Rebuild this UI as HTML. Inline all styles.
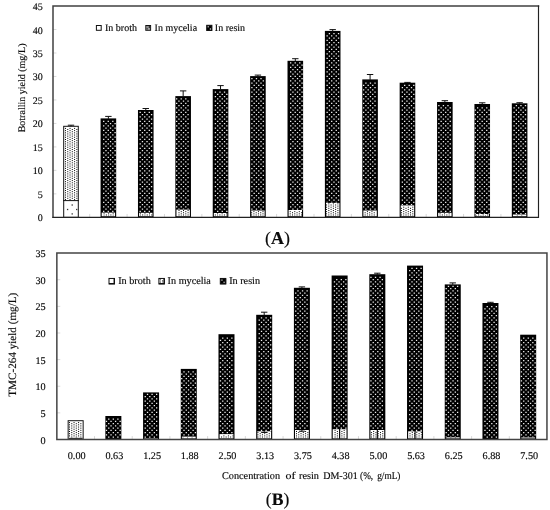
<!DOCTYPE html>
<html><head><meta charset="utf-8"><title>Figure</title>
<style>html,body{margin:0;padding:0;background:#fff}svg{display:block}text{font-family:'Liberation Serif','Times New Roman',serif;fill:#0a0a0a;stroke:#0a0a0a;stroke-width:0.15px;text-rendering:geometricPrecision}</style>
</head><body>
<svg width="550" height="510" viewBox="0 0 550 510">
<rect width="550" height="510" fill="#fff"/>
<line x1="53" y1="193.87" x2="56.4" y2="193.87" stroke="#cfcfcf" stroke-width="0.8"/>
<line x1="53" y1="170.39" x2="56.4" y2="170.39" stroke="#cfcfcf" stroke-width="0.8"/>
<line x1="53" y1="146.92" x2="56.4" y2="146.92" stroke="#cfcfcf" stroke-width="0.8"/>
<line x1="53" y1="123.44" x2="56.4" y2="123.44" stroke="#cfcfcf" stroke-width="0.8"/>
<line x1="53" y1="99.96" x2="56.4" y2="99.96" stroke="#cfcfcf" stroke-width="0.8"/>
<line x1="53" y1="76.48" x2="56.4" y2="76.48" stroke="#cfcfcf" stroke-width="0.8"/>
<line x1="53" y1="53.01" x2="56.4" y2="53.01" stroke="#cfcfcf" stroke-width="0.8"/>
<line x1="53" y1="29.53" x2="56.4" y2="29.53" stroke="#cfcfcf" stroke-width="0.8"/>
<line x1="89.69" y1="217.35" x2="89.69" y2="213.95" stroke="#cfcfcf" stroke-width="0.8"/>
<line x1="127.08" y1="217.35" x2="127.08" y2="213.95" stroke="#cfcfcf" stroke-width="0.8"/>
<line x1="164.46" y1="217.35" x2="164.46" y2="213.95" stroke="#cfcfcf" stroke-width="0.8"/>
<line x1="201.85" y1="217.35" x2="201.85" y2="213.95" stroke="#cfcfcf" stroke-width="0.8"/>
<line x1="239.23" y1="217.35" x2="239.23" y2="213.95" stroke="#cfcfcf" stroke-width="0.8"/>
<line x1="276.62" y1="217.35" x2="276.62" y2="213.95" stroke="#cfcfcf" stroke-width="0.8"/>
<line x1="314" y1="217.35" x2="314" y2="213.95" stroke="#cfcfcf" stroke-width="0.8"/>
<line x1="351.39" y1="217.35" x2="351.39" y2="213.95" stroke="#cfcfcf" stroke-width="0.8"/>
<line x1="388.77" y1="217.35" x2="388.77" y2="213.95" stroke="#cfcfcf" stroke-width="0.8"/>
<line x1="426.16" y1="217.35" x2="426.16" y2="213.95" stroke="#cfcfcf" stroke-width="0.8"/>
<line x1="463.54" y1="217.35" x2="463.54" y2="213.95" stroke="#cfcfcf" stroke-width="0.8"/>
<line x1="500.93" y1="217.35" x2="500.93" y2="213.95" stroke="#cfcfcf" stroke-width="0.8"/>
<rect x="63.7" y="126.3" width="14.6" height="91.05" fill="#fff" stroke="#111" stroke-width="1"/>
<line x1="63.2" y1="200.6" x2="78.8" y2="200.6" stroke="#111" stroke-width="1"/>
<rect x="71.55" y="204.35" width="1.3" height="1.3" fill="#333"/>
<rect x="66.95" y="208.85" width="1.3" height="1.3" fill="#333"/>
<rect x="76.05" y="208.85" width="1.3" height="1.3" fill="#333"/>
<rect x="71.55" y="213.25" width="1.3" height="1.3" fill="#333"/>
<rect x="100.58" y="118.4" width="15.6" height="98.95" fill="#000"/>
<rect x="101.68" y="212.6" width="13.4" height="3.65" fill="#fff"/>
<rect x="137.97" y="110" width="15.6" height="107.35" fill="#000"/>
<rect x="139.07" y="212.8" width="13.4" height="3.45" fill="#fff"/>
<rect x="175.35" y="96.1" width="15.6" height="121.25" fill="#000"/>
<rect x="176.45" y="209.6" width="13.4" height="6.65" fill="#fff"/>
<rect x="212.74" y="89.1" width="15.6" height="128.25" fill="#000"/>
<rect x="213.84" y="213" width="13.4" height="3.25" fill="#fff"/>
<rect x="250.12" y="76.1" width="15.6" height="141.25" fill="#000"/>
<rect x="251.22" y="210.5" width="13.4" height="5.75" fill="#fff"/>
<rect x="287.51" y="60.8" width="15.6" height="156.55" fill="#000"/>
<rect x="288.61" y="210" width="13.4" height="6.25" fill="#fff"/>
<rect x="324.89" y="30.9" width="15.6" height="186.45" fill="#000"/>
<rect x="326" y="202.9" width="13.4" height="13.35" fill="#fff"/>
<rect x="362.28" y="79.4" width="15.6" height="137.95" fill="#000"/>
<rect x="363.38" y="210.5" width="13.4" height="5.75" fill="#fff"/>
<rect x="399.66" y="82.7" width="15.6" height="134.65" fill="#000"/>
<rect x="400.76" y="205.4" width="13.4" height="10.85" fill="#fff"/>
<rect x="437.05" y="102" width="15.6" height="115.35" fill="#000"/>
<rect x="438.15" y="212.8" width="13.4" height="3.45" fill="#fff"/>
<rect x="474.43" y="104" width="15.6" height="113.35" fill="#000"/>
<rect x="475.53" y="214" width="13.4" height="2.25" fill="#fff"/>
<rect x="511.82" y="103.3" width="15.6" height="114.05" fill="#000"/>
<rect x="512.92" y="214.5" width="13.4" height="1.75" fill="#fff"/>
<path d="M103.7 120.75V212.3M105.98 123V212.3M108.26 120.75V212.3M110.54 123V212.3M112.82 120.75V212.3M115.1 123V212.3M140.18 111.75V212.5M142.46 114V212.5M144.74 111.75V212.5M147.02 114V212.5M149.3 111.75V212.5M151.58 114V212.5M176.66 98.25V209.3M178.94 100.5V209.3M181.22 98.25V209.3M183.5 100.5V209.3M185.78 98.25V209.3M188.06 100.5V209.3M215.42 91.5V212.7M217.7 93.75V212.7M219.98 91.5V212.7M222.26 93.75V212.7M224.54 91.5V212.7M226.82 93.75V212.7M251.9 78V210.2M254.18 80.25V210.2M256.46 78V210.2M258.74 80.25V210.2M261.02 78V210.2M263.3 80.25V210.2M290.66 62.25V209.7M292.94 64.5V209.7M295.22 62.25V209.7M297.5 64.5V209.7M299.78 62.25V209.7M302.06 64.5V209.7M327.14 35.25V202.6M329.42 33V202.6M331.7 35.25V202.6M333.98 33V202.6M336.26 35.25V202.6M338.54 33V202.6M363.62 84.75V210.2M365.9 82.5V210.2M368.18 84.75V210.2M370.46 82.5V210.2M372.74 84.75V210.2M375.02 82.5V210.2M402.38 87V205.1M404.66 84.75V205.1M406.94 87V205.1M409.22 84.75V205.1M411.5 87V205.1M413.78 84.75V205.1M438.86 105V212.5M441.14 107.25V212.5M443.42 105V212.5M445.7 107.25V212.5M447.98 105V212.5M450.26 107.25V212.5M475.34 109.5V213.7M477.62 107.25V213.7M479.9 109.5V213.7M482.18 107.25V213.7M484.46 109.5V213.7M486.74 107.25V213.7M489.02 109.5V213.7M514.1 107.25V214.2M516.38 105V214.2M518.66 107.25V214.2M520.94 105V214.2M523.22 107.25V214.2M525.5 105V214.2" fill="none" stroke="#f0f0f0" stroke-width="1.3" stroke-dasharray="1.3 3.2"/>
<path d="M65.5 127.9V200M67.77 129.01V200M70.04 127.9V200M72.31 129.01V200M74.58 127.9V200M76.85 129.01V200M104.09 213.37V216.05M106.36 214.48V216.05M108.63 213.37V216.05M110.9 214.48V216.05M113.17 213.37V216.05M140.41 213.37V216.05M142.68 214.48V216.05M144.95 213.37V216.05M147.22 214.48V216.05M149.49 213.37V216.05M151.76 214.48V216.05M179 210.04V216.05M181.27 211.15V216.05M183.54 210.04V216.05M185.81 211.15V216.05M188.08 210.04V216.05M215.32 214.48V216.05M217.59 213.37V216.05M219.86 214.48V216.05M222.13 213.37V216.05M224.4 214.48V216.05M226.67 213.37V216.05M251.64 212.26V216.05M253.91 211.15V216.05M256.18 212.26V216.05M258.45 211.15V216.05M260.72 212.26V216.05M262.99 211.15V216.05M290.23 211.15V216.05M292.5 212.26V216.05M294.77 211.15V216.05M297.04 212.26V216.05M299.31 211.15V216.05M301.58 212.26V216.05M326.55 204.49V216.05M328.82 203.38V216.05M331.09 204.49V216.05M333.36 203.38V216.05M335.63 204.49V216.05M337.9 203.38V216.05M365.14 212.26V216.05M367.41 211.15V216.05M369.68 212.26V216.05M371.95 211.15V216.05M374.22 212.26V216.05M401.46 207.82V216.05M403.73 206.71V216.05M406 207.82V216.05M408.27 206.71V216.05M410.54 207.82V216.05M412.81 206.71V216.05M440.05 213.37V216.05M442.32 214.48V216.05M444.59 213.37V216.05M446.86 214.48V216.05M449.13 213.37V216.05M476.37 215.59V216.05M478.64 214.48V216.05M480.91 215.59V216.05M483.18 214.48V216.05M485.45 215.59V216.05M487.72 214.48V216.05M517.23 215.59V216.05M521.77 215.59V216.05" fill="none" stroke="#000" stroke-width="1" stroke-dasharray="1 1.22"/>
<path d="M71 126.3V125.2M67.8 125.2H74.2" stroke="#111" stroke-width="1" fill="none"/>
<path d="M108.38 118.9V116.4M105.18 116.4H111.58" stroke="#111" stroke-width="1" fill="none"/>
<path d="M145.77 110.5V108.5M142.57 108.5H148.97" stroke="#111" stroke-width="1" fill="none"/>
<path d="M183.16 96.6V90.9M179.96 90.9H186.35" stroke="#111" stroke-width="1" fill="none"/>
<path d="M220.54 89.6V85.6M217.34 85.6H223.74" stroke="#111" stroke-width="1" fill="none"/>
<path d="M257.92 76.6V75.1M254.72 75.1H261.12" stroke="#111" stroke-width="1" fill="none"/>
<path d="M295.31 61.3V58.7M292.11 58.7H298.51" stroke="#111" stroke-width="1" fill="none"/>
<path d="M332.69 31.4V29.6M329.5 29.6H335.89" stroke="#111" stroke-width="1" fill="none"/>
<path d="M370.08 79.9V74.5M366.88 74.5H373.28" stroke="#111" stroke-width="1" fill="none"/>
<path d="M407.46 83.2V82.4M404.26 82.4H410.66" stroke="#111" stroke-width="1" fill="none"/>
<path d="M444.85 102.5V100.7M441.65 100.7H448.05" stroke="#111" stroke-width="1" fill="none"/>
<path d="M482.23 104.5V102.8M479.03 102.8H485.43" stroke="#111" stroke-width="1" fill="none"/>
<path d="M519.62 103.8V102.7M516.42 102.7H522.82" stroke="#111" stroke-width="1" fill="none"/>
<path d="M53 217.35V6.05H538.5" fill="none" stroke="#404040" stroke-width="1.5" stroke-linecap="square"/>
<path d="M538.5 6.05V217.35H53" fill="none" stroke="#222" stroke-width="1.15" stroke-linecap="square"/>
<text x="42.8" y="221.35" font-size="10" text-anchor="end">0</text>
<text x="42.8" y="197.87" font-size="10" text-anchor="end">5</text>
<text x="42.8" y="174.39" font-size="10" text-anchor="end">10</text>
<text x="42.8" y="150.92" font-size="10" text-anchor="end">15</text>
<text x="42.8" y="127.44" font-size="10" text-anchor="end">20</text>
<text x="42.8" y="103.96" font-size="10" text-anchor="end">25</text>
<text x="42.8" y="80.48" font-size="10" text-anchor="end">30</text>
<text x="42.8" y="57.01" font-size="10" text-anchor="end">35</text>
<text x="42.8" y="33.53" font-size="10" text-anchor="end">40</text>
<text x="42.8" y="10.05" font-size="10" text-anchor="end">45</text>
<rect x="96.4" y="25.5" width="4.8" height="4.8" fill="#fff" stroke="#111" stroke-width="1"/>
<text x="105" y="30.9" font-size="10">In broth</text>
<rect x="145.8" y="25.5" width="4.8" height="4.8" fill="#fff" stroke="#111" stroke-width="1"/>
<rect x="146.3" y="26" width="3.8" height="3.8" fill="#333"/>
<path d="M146.6 27h2.2M147.7 28.9h2.2" stroke="#fff" stroke-width="0.9" fill="none"/>
<text x="154.6" y="30.9" font-size="10">In mycelia</text>
<rect x="206.7" y="25.3" width="5.2" height="5.2" fill="#000" stroke="#111" stroke-width="1"/>
<rect x="207.6" y="26.2" width="1.2" height="1.2" fill="#e6e6e6"/><rect x="209.8" y="28.4" width="1.2" height="1.2" fill="#e6e6e6"/>
<text x="214.8" y="30.9" font-size="10">In resin</text>
<text transform="translate(25.1 87.9) rotate(-90)" font-size="10" text-anchor="middle">Botrallin yield (mg/L)</text>
<text x="277.6" y="244.3" font-size="18" text-anchor="middle">(<tspan font-weight="bold">A</tspan>)</text>
<line x1="56.85" y1="412.87" x2="60.25" y2="412.87" stroke="#cfcfcf" stroke-width="0.8"/>
<line x1="56.85" y1="386.24" x2="60.25" y2="386.24" stroke="#cfcfcf" stroke-width="0.8"/>
<line x1="56.85" y1="359.61" x2="60.25" y2="359.61" stroke="#cfcfcf" stroke-width="0.8"/>
<line x1="56.85" y1="332.99" x2="60.25" y2="332.99" stroke="#cfcfcf" stroke-width="0.8"/>
<line x1="56.85" y1="306.36" x2="60.25" y2="306.36" stroke="#cfcfcf" stroke-width="0.8"/>
<line x1="56.85" y1="279.73" x2="60.25" y2="279.73" stroke="#cfcfcf" stroke-width="0.8"/>
<line x1="94.51" y1="439.5" x2="94.51" y2="436.1" stroke="#cfcfcf" stroke-width="0.8"/>
<line x1="132.22" y1="439.5" x2="132.22" y2="436.1" stroke="#cfcfcf" stroke-width="0.8"/>
<line x1="169.93" y1="439.5" x2="169.93" y2="436.1" stroke="#cfcfcf" stroke-width="0.8"/>
<line x1="207.64" y1="439.5" x2="207.64" y2="436.1" stroke="#cfcfcf" stroke-width="0.8"/>
<line x1="245.34" y1="439.5" x2="245.34" y2="436.1" stroke="#cfcfcf" stroke-width="0.8"/>
<line x1="283.06" y1="439.5" x2="283.06" y2="436.1" stroke="#cfcfcf" stroke-width="0.8"/>
<line x1="320.76" y1="439.5" x2="320.76" y2="436.1" stroke="#cfcfcf" stroke-width="0.8"/>
<line x1="358.48" y1="439.5" x2="358.48" y2="436.1" stroke="#cfcfcf" stroke-width="0.8"/>
<line x1="396.19" y1="439.5" x2="396.19" y2="436.1" stroke="#cfcfcf" stroke-width="0.8"/>
<line x1="433.89" y1="439.5" x2="433.89" y2="436.1" stroke="#cfcfcf" stroke-width="0.8"/>
<line x1="471.61" y1="439.5" x2="471.61" y2="436.1" stroke="#cfcfcf" stroke-width="0.8"/>
<line x1="509.32" y1="439.5" x2="509.32" y2="436.1" stroke="#cfcfcf" stroke-width="0.8"/>
<rect x="68.15" y="420.7" width="15" height="18.8" fill="#fff" stroke="#111" stroke-width="1"/>
<rect x="68.65" y="437.8" width="14" height="1.2" fill="#333"/>
<rect x="105.36" y="416" width="16" height="23.5" fill="#000"/>
<rect x="143.07" y="392.4" width="16" height="47.1" fill="#000"/>
<rect x="144.17" y="438" width="13.8" height="0.4" fill="#fff"/>
<rect x="180.78" y="368.9" width="16" height="70.6" fill="#000"/>
<rect x="181.88" y="436.6" width="13.8" height="1.8" fill="#fff"/>
<rect x="218.49" y="334.2" width="16" height="105.3" fill="#000"/>
<rect x="219.59" y="434.1" width="13.8" height="4.3" fill="#fff"/>
<rect x="256.2" y="314.8" width="16" height="124.7" fill="#000"/>
<rect x="257.3" y="431.3" width="13.8" height="7.1" fill="#fff"/>
<rect x="293.91" y="287.8" width="16" height="151.7" fill="#000"/>
<rect x="295.01" y="430" width="13.8" height="8.4" fill="#fff"/>
<rect x="331.62" y="275.5" width="16" height="164" fill="#000"/>
<rect x="332.72" y="429.2" width="13.8" height="9.2" fill="#fff"/>
<rect x="369.33" y="274.2" width="16" height="165.3" fill="#000"/>
<rect x="370.43" y="430" width="13.8" height="8.4" fill="#fff"/>
<rect x="407.04" y="265.6" width="16" height="173.9" fill="#000"/>
<rect x="408.14" y="431.3" width="13.8" height="7.1" fill="#fff"/>
<rect x="444.75" y="284.4" width="16" height="155.1" fill="#000"/>
<rect x="445.85" y="437.3" width="13.8" height="1.1" fill="#fff"/>
<rect x="482.46" y="303" width="16" height="136.5" fill="#000"/>
<rect x="520.17" y="334.7" width="16" height="104.8" fill="#000"/>
<rect x="521.27" y="437.5" width="13.8" height="0.9" fill="#fff"/>
<path d="M106.48 420.75V438.4M108.76 418.5V438.4M111.04 420.75V438.4M113.32 418.5V438.4M115.6 420.75V438.4M117.88 418.5V438.4M120.16 420.75V438.4M145.24 396V437.7M147.52 393.75V437.7M149.8 396V437.7M152.08 393.75V437.7M154.36 396V437.7M156.64 393.75V437.7M181.72 373.5V436.3M184 371.25V436.3M186.28 373.5V436.3M188.56 371.25V436.3M190.84 373.5V436.3M193.12 371.25V436.3M195.4 373.5V436.3M220.48 339.75V433.8M222.76 337.5V433.8M225.04 339.75V433.8M227.32 337.5V433.8M229.6 339.75V433.8M231.88 337.5V433.8M259.24 319.5V431M261.52 317.25V431M263.8 319.5V431M266.08 317.25V431M268.36 319.5V431M270.64 317.25V431M295.72 292.5V429.7M298 290.25V429.7M300.28 292.5V429.7M302.56 290.25V429.7M304.84 292.5V429.7M307.12 290.25V429.7M334.48 281.25V428.9M336.76 279V428.9M339.04 281.25V428.9M341.32 279V428.9M343.6 281.25V428.9M345.88 279V428.9M370.96 276.75V429.7M373.24 279V429.7M375.52 276.75V429.7M377.8 279V429.7M380.08 276.75V429.7M382.36 279V429.7M409.72 270V431M412 267.75V431M414.28 270V431M416.56 267.75V431M418.84 270V431M421.12 267.75V431M446.2 288V437M448.48 285.75V437M450.76 288V437M453.04 285.75V437M455.32 288V437M457.6 285.75V437M484.96 308.25V438.4M487.24 306V438.4M489.52 308.25V438.4M491.8 306V438.4M494.08 308.25V438.4M496.36 306V438.4M521.44 339.75V437.2M523.72 337.5V437.2M526 339.75V437.2M528.28 337.5V437.2M530.56 339.75V437.2M532.84 337.5V437.2M535.12 339.75V437.2" fill="none" stroke="#f0f0f0" stroke-width="1.3" stroke-dasharray="1.3 3.2"/>
<path d="M69.5 422.1V437.4M71.77 423.21V437.4M74.04 422.1V437.4M76.31 423.21V437.4M78.58 422.1V437.4M80.85 423.21V437.4M183 437.64V438.2M187.54 437.64V438.2M192.08 437.64V438.2M221.59 436.53V438.2M223.86 435.42V438.2M226.13 436.53V438.2M228.4 435.42V438.2M230.67 436.53V438.2M232.94 435.42V438.2M257.91 432.09V438.2M260.18 433.2V438.2M262.45 432.09V438.2M264.72 433.2V438.2M266.99 432.09V438.2M269.26 433.2V438.2M296.5 430.98V438.2M298.77 432.09V438.2M301.04 430.98V438.2M303.31 432.09V438.2M305.58 430.98V438.2M307.85 432.09V438.2M335.09 429.87V438.2M337.36 430.98V438.2M339.63 429.87V438.2M341.9 430.98V438.2M344.17 429.87V438.2M371.41 432.09V438.2M373.68 430.98V438.2M375.95 432.09V438.2M378.22 430.98V438.2M380.49 432.09V438.2M382.76 430.98V438.2M410 433.2V438.2M412.27 432.09V438.2M414.54 433.2V438.2M416.81 432.09V438.2M419.08 433.2V438.2M421.35 432.09V438.2M446.32 437.64V438.2M450.86 437.64V438.2M455.4 437.64V438.2" fill="none" stroke="#000" stroke-width="1" stroke-dasharray="1 1.22"/>
<path d="M264.2 315.3V312.2M261 312.2H267.4" stroke="#111" stroke-width="1" fill="none"/>
<path d="M301.91 288.3V286.9M298.71 286.9H305.11" stroke="#111" stroke-width="1" fill="none"/>
<path d="M377.33 274.7V273.2M374.13 273.2H380.53" stroke="#111" stroke-width="1" fill="none"/>
<path d="M452.75 284.9V282.9M449.55 282.9H455.95" stroke="#111" stroke-width="1" fill="none"/>
<path d="M490.46 303.5V302.3M487.26 302.3H493.66" stroke="#111" stroke-width="1" fill="none"/>
<path d="M56.85 253.1H546.95V439.5H56.85Z" fill="none" stroke="#444" stroke-width="1.5"/>
<text x="45.6" y="443.57" font-size="10.2" text-anchor="end">0</text>
<text x="45.6" y="416.94" font-size="10.2" text-anchor="end">5</text>
<text x="45.6" y="390.31" font-size="10.2" text-anchor="end">10</text>
<text x="45.6" y="363.68" font-size="10.2" text-anchor="end">15</text>
<text x="45.6" y="337.05" font-size="10.2" text-anchor="end">20</text>
<text x="45.6" y="310.42" font-size="10.2" text-anchor="end">25</text>
<text x="45.6" y="283.79" font-size="10.2" text-anchor="end">30</text>
<text x="45.6" y="257.17" font-size="10.2" text-anchor="end">35</text>
<line x1="339.62" y1="428.9" x2="339.62" y2="438.8" stroke="#000" stroke-width="1.1"/>
<line x1="377.33" y1="429.7" x2="377.33" y2="438.8" stroke="#000" stroke-width="1.1"/>
<line x1="415.04" y1="431" x2="415.04" y2="438.8" stroke="#000" stroke-width="1.1"/>
<path d="M261.2 432.5H267.2M264.2 430.8V432.5" stroke="#111" stroke-width="1" fill="none"/>
<path d="M298.91 431.2H304.91M301.91 429.5V431.2" stroke="#111" stroke-width="1" fill="none"/>
<rect x="109" y="278.45" width="5.5" height="5.5" fill="#fff" stroke="#111" stroke-width="1"/>
<path d="M109 283.65H114.2V278.45" fill="none" stroke="#111" stroke-width="1.3"/>
<text x="118.2" y="284.26" font-size="10.2">In broth</text>
<rect x="158.9" y="278.45" width="5.5" height="5.5" fill="#fff" stroke="#111" stroke-width="1"/>
<path d="M160.3 279.35V283.35M162.57 280.46V283.35" fill="none" stroke="#000" stroke-width="1" stroke-dasharray="1 1.22"/>
<path d="M158.9 283.65H164.1V278.45" fill="none" stroke="#111" stroke-width="1.3"/>
<text x="167.6" y="284.26" font-size="10.2">In mycelia</text>
<rect x="220.3" y="278.45" width="5.5" height="5.5" fill="#000" stroke="#111" stroke-width="1"/>
<rect x="221.35" y="279.5" width="1.2" height="1.2" fill="#e6e6e6"/><rect x="223.55" y="281.7" width="1.2" height="1.2" fill="#e6e6e6"/>
<path d="M220.3 283.65H225.5V278.45" fill="none" stroke="#111" stroke-width="1.3"/>
<text x="229.2" y="284.26" font-size="10.2">In resin</text>
<text x="76.65" y="459.4" font-size="10.2" text-anchor="middle">0.00</text>
<text x="114.36" y="459.4" font-size="10.2" text-anchor="middle">0.63</text>
<text x="152.07" y="459.4" font-size="10.2" text-anchor="middle">1.25</text>
<text x="189.78" y="459.4" font-size="10.2" text-anchor="middle">1.88</text>
<text x="227.49" y="459.4" font-size="10.2" text-anchor="middle">2.50</text>
<text x="265.2" y="459.4" font-size="10.2" text-anchor="middle">3.13</text>
<text x="302.91" y="459.4" font-size="10.2" text-anchor="middle">3.75</text>
<text x="340.62" y="459.4" font-size="10.2" text-anchor="middle">4.38</text>
<text x="378.33" y="459.4" font-size="10.2" text-anchor="middle">5.00</text>
<text x="416.04" y="459.4" font-size="10.2" text-anchor="middle">5.63</text>
<text x="453.75" y="459.4" font-size="10.2" text-anchor="middle">6.25</text>
<text x="491.46" y="459.4" font-size="10.2" text-anchor="middle">6.88</text>
<text x="529.17" y="459.4" font-size="10.2" text-anchor="middle">7.50</text>
<text y="479.3" font-size="10.3"><tspan x="221.9" textLength="58.2" lengthAdjust="spacingAndGlyphs">Concentration</tspan> <tspan x="285.5" textLength="10" lengthAdjust="spacingAndGlyphs">of</tspan> <tspan x="299" textLength="20" lengthAdjust="spacingAndGlyphs">resin</tspan> <tspan x="323.2" textLength="34.5" lengthAdjust="spacingAndGlyphs">DM-301</tspan> <tspan x="360.1" textLength="13.1" lengthAdjust="spacingAndGlyphs">(%,</tspan> <tspan x="377.2" textLength="23.3" lengthAdjust="spacingAndGlyphs">g/mL)</tspan></text>
<text transform="translate(16.4 344.7) rotate(-90)" font-size="11.15" text-anchor="middle">TMC-264 yield (mg/L)</text>
<text x="277.6" y="504.8" font-size="17.6" text-anchor="middle">(<tspan font-weight="bold">B</tspan>)</text>
</svg></body></html>
